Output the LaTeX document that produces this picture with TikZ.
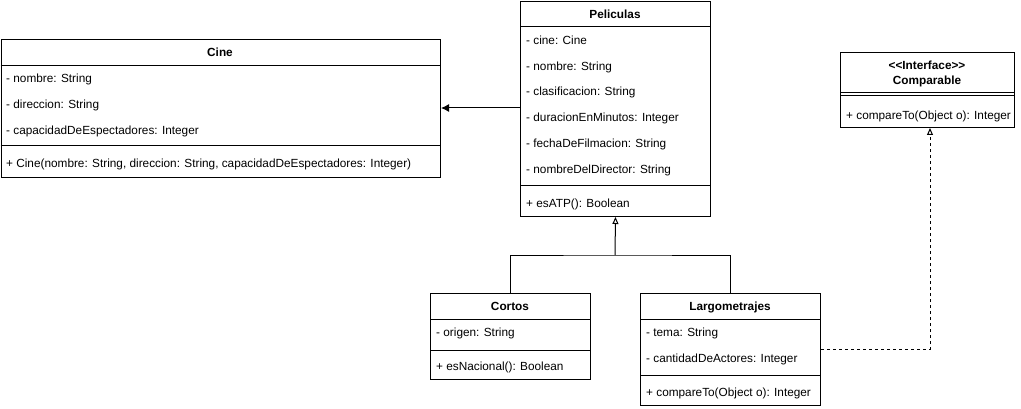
\documentclass[tikz,border=0pt]{standalone}
\usepackage{fontspec}
\setmainfont{Liberation Sans}[Ligatures=TeXOff]
\usetikzlibrary{arrows.meta}
\begin{document}
\begin{tikzpicture}[x=1pt,y=-1pt,
  box/.style={draw, line width=1pt, anchor=north west, inner sep=0pt, fill=white},
  title/.style={font=\fontsize{11.8}{14}\selectfont\bfseries, inner sep=0pt, anchor=base},
  member/.style={font=\fontsize{11.8}{14}\selectfont, inner sep=0pt, anchor=base west},
  sep/.style={line width=1pt},
  assoc/.style={line width=1pt, -{Latex[length=8pt,width=8pt]}},
  inherit/.style={line width=1pt, -{Triangle[open,length=7pt,width=6pt]}},
  realize/.style={line width=1pt, dash pattern=on 3pt off 3pt, -{Triangle[open,length=7pt,width=6pt]}}]
\useasboundingbox (0,0) rectangle (1021,409);

% Cine
\node[box, minimum width=439.5pt, minimum height=138pt] (cine) at (0.5,39) {};
\node[title] (cineT) at (220,56.5) {Cine};
\draw[sep] (0.5,66) -- (440,66);
\node[member] (c1) at (6,82.3) {- nombre: String};
\node[member] (c2) at (6,108.3) {- direccion: String};
\node[member] (c3) at (6,134.3) {- capacidadDeEspectadores: Integer};
\draw[sep] (0.5,146) -- (440,146);
\node[member] (c4) at (6,168) {+ Cine(nombre: String, direccion: String, capacidadDeEspectadores: Integer)};

% Peliculas
\node[box, minimum width=190pt, minimum height=215pt] (pel) at (520,1) {};
\node[title] (pelT) at (615,18.3) {Peliculas};
\draw[sep] (520,27) -- (710,27);
\node[member] (p1) at (526,44.3) {- cine: Cine};
\node[member] (p2) at (526,70.3) {- nombre: String};
\node[member] (p3) at (526,96) {- clasificacion: String};
\node[member] (p4) at (526,122) {- duracionEnMinutos: Integer};
\node[member] (p5) at (526,148) {- fechaDeFilmacion: String};
\node[member] (p6) at (526,174) {- nombreDelDirector: String};
\draw[sep] (520,186) -- (710,186);
\node[member] (p7) at (526,207.3) {+ esATP(): Boolean};

% Comparable
\node[box, minimum width=174pt, minimum height=75pt] (cmp) at (840,52) {};
\node[title] (cmpS) at (927,70) {<<Interface>>};
\node[title] (cmpT) at (927,84.3) {Comparable};
\draw[sep] (840,92.5) -- (1014,92.5);
\draw[sep] (840,96) -- (1014,96);
\node[member] (cm1) at (846,119.3) {+ compareTo(Object o): Integer};

% Cortos
\node[box, minimum width=160pt, minimum height=86pt] (cor) at (430,293) {};
\node[title] (corT) at (510,310.3) {Cortos};
\draw[sep] (430,319) -- (590,319);
\node[member] (co1) at (436,336.5) {- origen: String};
\draw[sep] (430,350) -- (590,350);
\node[member] (co2) at (436,370.5) {+ esNacional(): Boolean};

% Largometrajes
\node[box, minimum width=180pt, minimum height=112pt] (lar) at (640,293) {};
\node[title] (larT) at (730,310.3) {Largometrajes};
\draw[sep] (640,319) -- (820,319);
\node[member] (l1) at (646,336.5) {- tema: String};
\node[member] (l2) at (646,362.5) {- cantidadDeActores: Integer};
\draw[sep] (640,375) -- (820,375);
\node[member] (l3) at (646,396.5) {+ compareTo(Object o): Integer};

% connectors
\coordinate (j) at (615,255);
\draw[assoc] (pel.west |- 0,108) -- (cine.east |- 0,108);
\draw[line width=1pt] (cor.north) |- (j) -| (lar.north);
\draw[inherit] (j) -- (pel.south);
\coordinate (d) at (930,349);
\draw[realize] (lar.east |- d) -- (d) -- (cmp.south -| d);
\end{tikzpicture}
\end{document}
